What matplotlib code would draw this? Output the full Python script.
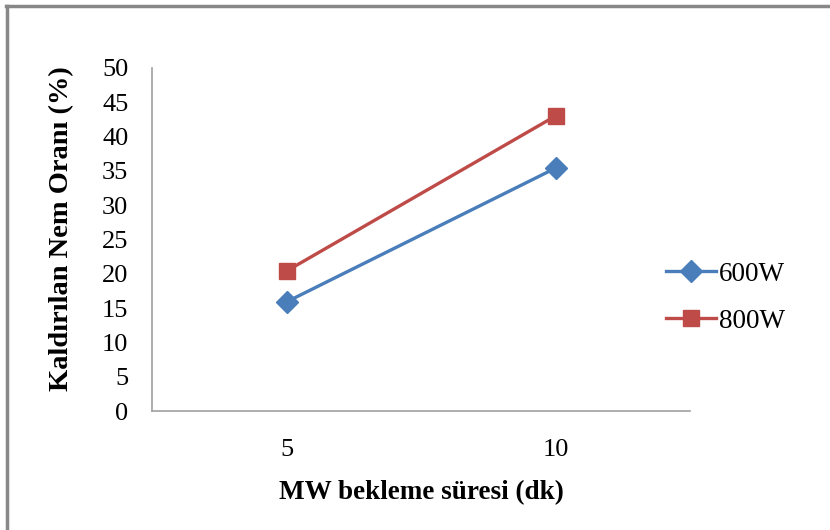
import matplotlib.pyplot as plt
from matplotlib.lines import Line2D

# data
times = ["5", "10"]
w600 = [15.9, 35.4]
w800 = [20.4, 43.0]
series_labels = ["600W", "800W"]

plt.rcParams["font.family"] = ["Liberation Serif", "DejaVu Serif"]

fig = plt.figure(figsize=(8.3, 5.3), dpi=100)
ax = fig.add_axes([152 / 830, 1 - 411 / 530, 538 / 830, 343 / 530])

x = range(1, len(times) + 1)
ax.plot(x, w600, color="#4A7EBB", lw=2.4, marker="D", ms=11, label=series_labels[0])
ax.plot(x, w800, color="#BE4B48", lw=2.4, marker="s", ms=12, label=series_labels[1])

ax.set_xlim(0.5, 2.5)
ax.set_ylim(0, 50)
ax.set_yticks(range(0, 51, 5))
ax.set_xticks(list(x))
ax.set_xticklabels(times)
ax.tick_params(length=0, labelsize=19, colors="#000000")
ax.tick_params(axis="y", pad=17)
ax.tick_params(axis="x", pad=20)
for s in ["top", "right"]:
    ax.spines[s].set_visible(False)
for s in ["left", "bottom"]:
    ax.spines[s].set_color("#A0A0A0")
    ax.spines[s].set_linewidth(1.2)

ax.set_xlabel("MW bekleme süresi (dk)", fontsize=19.5, fontweight="bold", labelpad=14)
ax.set_ylabel("Kaldırılan Nem Oranı (%)", fontsize=20.5, fontweight="bold")
ax.yaxis.set_label_coords(-0.144, 0.533)

ax.legend(loc="center left", bbox_to_anchor=(0.91, 0.33), frameon=False,
          fontsize=19.5, handlelength=1.85, handletextpad=0.1, labelspacing=0.8)

# outer chart frame (top and left edges visible)
fig.add_artist(Line2D([6 / 830, 1], [1 - 6 / 530, 1 - 6 / 530], color="#888888", lw=2.5))
fig.add_artist(Line2D([7 / 830, 7 / 830], [0, 1 - 6 / 530], color="#888888", lw=2.5))

fig.savefig("out.png", dpi=100)
